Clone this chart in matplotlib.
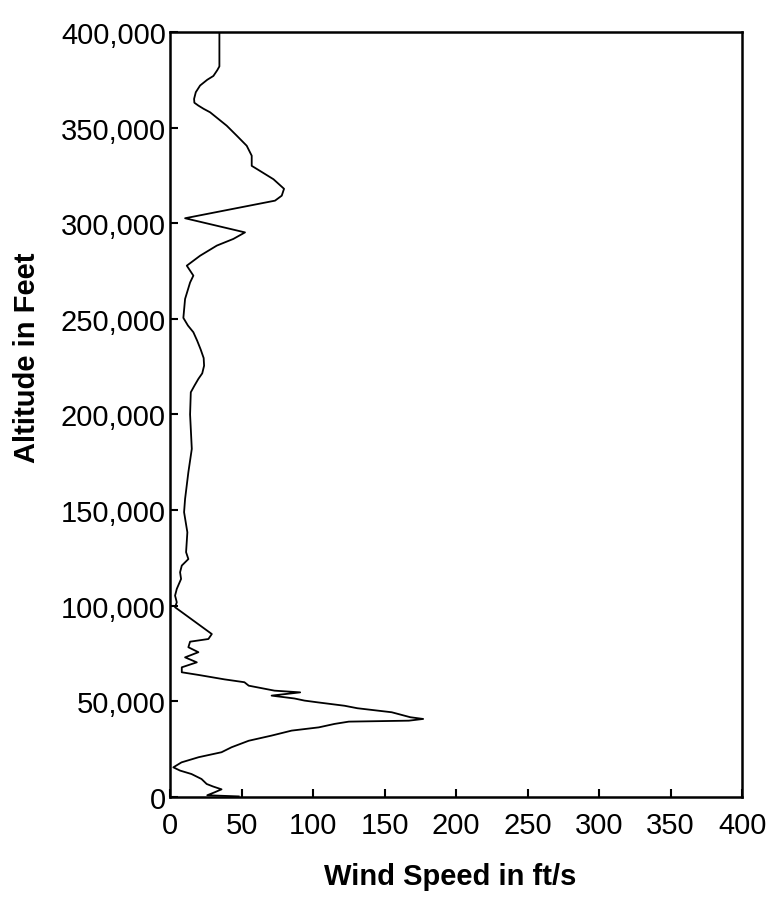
import matplotlib
matplotlib.use('Agg')
import matplotlib.pyplot as plt

# wind profile, bottom to top
wind_speed = [48, 26, 31, 36, 30, 25.6, 22, 15, 7, 2.3, 8, 20, 36, 43, 55, 71, 85, 104,
              115, 125, 167, 177, 168, 155, 131, 122, 103, 94, 87, 71, 91, 73, 55, 52,
              38, 20, 8.2, 8.2, 18.7, 10.5, 19.8, 12.8, 14, 26.8, 29.2, 3.5, 4.7, 3.5,
              4.7, 7.7, 7, 8.2, 12.8, 11.2, 12.1, 9.8, 10.5, 12.8, 15.2, 14, 14.5, 17,
              19.8, 22.5, 23.8, 23.5, 21.4, 19, 16.3, 12.5, 9.3, 10.5, 14, 16.3, 11.7,
              21, 32.7, 44.3, 52.4, 10.5, 73.4, 78.1, 79.7, 72.3, 60.6, 57.1, 57.1, 53.6,
              46.6, 39.6, 28, 23.5, 19.8, 17, 16.8, 18, 21, 26, 30.3, 33, 34.5, 34.5]
altitude = [300, 900, 2400, 4000, 5500, 6800, 9400, 12000, 13800, 15500, 18100, 20800,
            23400, 26000, 29400, 32100, 34700, 36400, 38200, 39400, 39900, 40800, 41700,
            44300, 46400, 47700, 49500, 50400, 51500, 53000, 54700, 55600, 58200, 60000,
            61500, 63800, 65200, 67800, 70400, 73000, 75700, 78300, 81200, 82600, 85200,
            99200, 101800, 105300, 108800, 114000, 117500, 121000, 124400, 128000,
            138400, 148900, 155800, 169800, 182000, 200000, 211600, 215000, 218600,
            221500, 225500, 229500, 234000, 238500, 243000, 246500, 250500, 260400,
            269000, 272600, 277800, 283000, 288300, 291800, 295200, 302600, 311800,
            314400, 318000, 323000, 328400, 330000, 335300, 340500, 345800, 351000,
            358000, 359800, 361500, 363000, 365000, 368500, 372000, 375000, 377000,
            380000, 382000, 400000]

x_ticks = [0, 50, 100, 150, 200, 250, 300, 350, 400]
y_ticks = [0, 50000, 100000, 150000, 200000, 250000, 300000, 350000, 400000]
y_tick_labels = ['0', '50,000', '100,000', '150,000', '200,000',
                 '250,000', '300,000', '350,000', '400,000']

plt.rcParams['font.family'] = ['Liberation Sans', 'DejaVu Sans']

fig = plt.figure(figsize=(7.73, 9.03), dpi=100)
ax = fig.add_axes([0.22, 0.1163, 0.74, 0.8472])

ax.plot(wind_speed, altitude, color='black', linewidth=1.3)

ax.set_xlim(0, 400)
ax.set_ylim(0, 400000)
ax.set_xticks(x_ticks)
ax.set_xticklabels([str(v) for v in x_ticks])
ax.set_yticks(y_ticks)
ax.set_yticklabels(y_tick_labels)

ax.tick_params(axis='both', direction='in', length=6, width=1.5, top=False, right=False,
               labelsize=21)
ax.tick_params(axis='x', pad=10)
ax.tick_params(axis='y', pad=3)
for s in ax.spines.values():
    s.set_linewidth(1.8)

ax.set_xlabel('Wind Speed in ft/s', fontsize=21, fontweight='bold')
ax.set_ylabel('Altitude in Feet', fontsize=21, fontweight='bold')
ax.xaxis.set_label_coords(0.49, -0.085)
ax.yaxis.set_label_coords(-0.226, 0.575)

fig.savefig('out.png', dpi=100)
